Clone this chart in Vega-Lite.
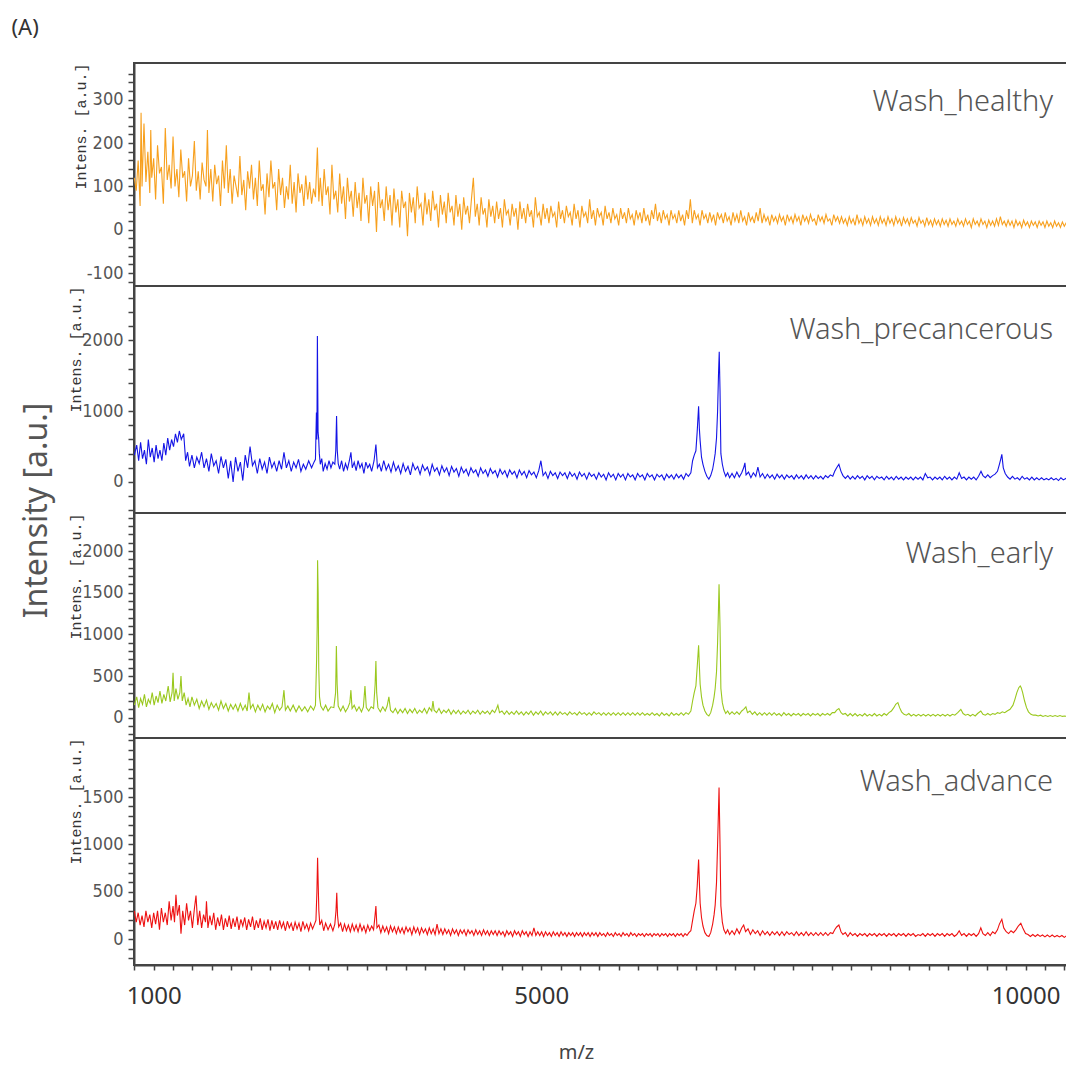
{
  "$schema": "https://vega.github.io/schema/vega-lite/v6.json",
  "background": "white",
  "padding": {"left": 10, "top": 15, "right": 0, "bottom": 0},
  "spacing": 0,
  "bounds": "flush",
  "config": {
    "view": {"stroke": "#444", "strokeWidth": 2},
    "axis": {"grid": false, "domainColor": "#444", "domainWidth": 2, "tickColor": "#444", "tickWidth": 1.5, "tickSize": 6,
             "labelFont": "Liberation Sans Narrow, DejaVu Sans Condensed, sans-serif", "labelFontSize": 18, "labelColor": "#555", "labelPadding": 5,
             "labelOverlap": false, "labelFlush": false, "labelBound": false,
             "titleFont": "Liberation Mono, DejaVu Sans Mono, monospace", "titleFontSize": 15, "titleFontWeight": "normal", "titleColor": "#333", "titlePadding": -2, "titleAnchor": "end"},
    "title": {"font": "Noto Sans", "fontWeight": 300, "color": "#555"}
  },
  "datasets": {
    "healthy": [
      {"mz":800,"int":120},{"mz":820,"int":90},{"mz":840,"int":160},{"mz":860,"int":55},{"mz":870,"int":270},{"mz":880,"int":100},{"mz":900,"int":245},{"mz":920,"int":110},{"mz":940,"int":180},{"mz":960,"int":85},
      {"mz":970,"int":230},{"mz":980,"int":120},{"mz":1000,"int":165},{"mz":1020,"int":70},{"mz":1040,"int":195},{"mz":1060,"int":130},{"mz":1080,"int":145},{"mz":1100,"int":60},{"mz":1120,"int":235},{"mz":1140,"int":115},
      {"mz":1160,"int":150},{"mz":1180,"int":95},{"mz":1200,"int":215},{"mz":1220,"int":100},{"mz":1240,"int":140},{"mz":1260,"int":75},{"mz":1280,"int":185},{"mz":1300,"int":120},{"mz":1320,"int":135},{"mz":1340,"int":65},
      {"mz":1360,"int":165},{"mz":1380,"int":100},{"mz":1400,"int":125},{"mz":1420,"int":205},{"mz":1440,"int":90},{"mz":1460,"int":135},{"mz":1480,"int":70},{"mz":1500,"int":155},{"mz":1520,"int":115},{"mz":1540,"int":100},
      {"mz":1555,"int":230},{"mz":1570,"int":85},{"mz":1590,"int":140},{"mz":1610,"int":65},{"mz":1630,"int":150},{"mz":1650,"int":105},{"mz":1670,"int":125},{"mz":1690,"int":55},{"mz":1710,"int":160},{"mz":1730,"int":95},
      {"mz":1750,"int":195},{"mz":1770,"int":85},{"mz":1790,"int":140},{"mz":1810,"int":60},{"mz":1830,"int":125},{"mz":1850,"int":100},{"mz":1870,"int":75},{"mz":1890,"int":170},{"mz":1910,"int":80},{"mz":1930,"int":115},
      {"mz":1950,"int":45},{"mz":1970,"int":135},{"mz":1990,"int":95},{"mz":2010,"int":150},{"mz":2030,"int":70},{"mz":2050,"int":120},{"mz":2070,"int":55},{"mz":2090,"int":160},{"mz":2110,"int":90},{"mz":2130,"int":105},
      {"mz":2150,"int":35},{"mz":2170,"int":130},{"mz":2190,"int":75},{"mz":2210,"int":160},{"mz":2230,"int":95},{"mz":2250,"int":110},{"mz":2270,"int":45},{"mz":2290,"int":140},{"mz":2310,"int":80},{"mz":2330,"int":120},
      {"mz":2350,"int":50},{"mz":2370,"int":100},{"mz":2390,"int":70},{"mz":2410,"int":150},{"mz":2430,"int":60},{"mz":2450,"int":110},{"mz":2470,"int":40},{"mz":2490,"int":130},{"mz":2510,"int":85},{"mz":2530,"int":105},
      {"mz":2550,"int":55},{"mz":2570,"int":125},{"mz":2590,"int":70},{"mz":2610,"int":110},{"mz":2630,"int":60},{"mz":2650,"int":95},{"mz":2670,"int":75},{"mz":2690,"int":190},{"mz":2705,"int":65},{"mz":2720,"int":120},
      {"mz":2740,"int":55},{"mz":2760,"int":140},{"mz":2780,"int":80},{"mz":2800,"int":100},{"mz":2820,"int":35},{"mz":2840,"int":150},{"mz":2860,"int":70},{"mz":2880,"int":90},{"mz":2900,"int":40},{"mz":2920,"int":130},
      {"mz":2940,"int":60},{"mz":2960,"int":100},{"mz":2980,"int":25},{"mz":3000,"int":120},{"mz":3020,"int":65},{"mz":3040,"int":90},{"mz":3060,"int":30},{"mz":3080,"int":110},{"mz":3100,"int":50},{"mz":3120,"int":85},
      {"mz":3140,"int":20},{"mz":3160,"int":120},{"mz":3180,"int":60},{"mz":3200,"int":80},{"mz":3220,"int":15},{"mz":3240,"int":100},{"mz":3260,"int":55},{"mz":3280,"int":90},{"mz":3300,"int":-5},{"mz":3320,"int":110},
      {"mz":3340,"int":50},{"mz":3360,"int":70},{"mz":3380,"int":20},{"mz":3400,"int":100},{"mz":3420,"int":45},{"mz":3440,"int":80},{"mz":3460,"int":10},{"mz":3480,"int":95},{"mz":3500,"int":40},{"mz":3520,"int":70},
      {"mz":3540,"int":5},{"mz":3560,"int":90},{"mz":3580,"int":50},{"mz":3600,"int":65},{"mz":3620,"int":-15},{"mz":3640,"int":85},{"mz":3660,"int":40},{"mz":3680,"int":75},{"mz":3700,"int":15},{"mz":3720,"int":100},
      {"mz":3740,"int":50},{"mz":3760,"int":60},{"mz":3780,"int":10},{"mz":3800,"int":85},{"mz":3820,"int":35},{"mz":3840,"int":70},{"mz":3860,"int":20},{"mz":3880,"int":90},{"mz":3900,"int":45},{"mz":3920,"int":60},
      {"mz":3940,"int":5},{"mz":3960,"int":80},{"mz":3980,"int":35},{"mz":4000,"int":65},{"mz":4020,"int":15},{"mz":4040,"int":85},{"mz":4060,"int":40},{"mz":4080,"int":55},{"mz":4100,"int":10},{"mz":4120,"int":80},
      {"mz":4140,"int":30},{"mz":4160,"int":60},{"mz":4180,"int":0},{"mz":4200,"int":75},{"mz":4220,"int":35},{"mz":4240,"int":55},{"mz":4260,"int":15},{"mz":4280,"int":70},{"mz":4300,"int":120},{"mz":4320,"int":30},
      {"mz":4340,"int":60},{"mz":4360,"int":10},{"mz":4380,"int":75},{"mz":4400,"int":35},{"mz":4420,"int":50},{"mz":4440,"int":5},{"mz":4460,"int":70},{"mz":4480,"int":30},{"mz":4500,"int":55},{"mz":4520,"int":15},
      {"mz":4540,"int":65},{"mz":4560,"int":25},{"mz":4580,"int":50},{"mz":4600,"int":5},{"mz":4620,"int":70},{"mz":4640,"int":35},{"mz":4660,"int":45},{"mz":4680,"int":10},{"mz":4700,"int":60},{"mz":4720,"int":30},
      {"mz":4740,"int":50},{"mz":4760,"int":0},{"mz":4780,"int":65},{"mz":4800,"int":25},{"mz":4820,"int":50},{"mz":4840,"int":15},{"mz":4860,"int":60},{"mz":4880,"int":30},{"mz":4900,"int":45},{"mz":4920,"int":5},
      {"mz":4940,"int":75},{"mz":4960,"int":30},{"mz":4980,"int":40},{"mz":5000,"int":10},{"mz":5020,"int":60},{"mz":5040,"int":25},{"mz":5060,"int":50},{"mz":5080,"int":15},{"mz":5100,"int":55},{"mz":5120,"int":30},
      {"mz":5140,"int":40},{"mz":5160,"int":5},{"mz":5180,"int":65},{"mz":5200,"int":25},{"mz":5220,"int":45},{"mz":5240,"int":15},{"mz":5260,"int":55},{"mz":5280,"int":30},{"mz":5300,"int":40},{"mz":5320,"int":10},
      {"mz":5340,"int":60},{"mz":5360,"int":25},{"mz":5380,"int":45},{"mz":5400,"int":5},{"mz":5420,"int":55},{"mz":5440,"int":30},{"mz":5460,"int":40},{"mz":5480,"int":15},{"mz":5500,"int":70},{"mz":5520,"int":25},
      {"mz":5540,"int":45},{"mz":5560,"int":10},{"mz":5580,"int":50},{"mz":5600,"int":30},{"mz":5620,"int":40},{"mz":5640,"int":10},{"mz":5660,"int":55},{"mz":5680,"int":25},{"mz":5700,"int":40},{"mz":5720,"int":15},
      {"mz":5740,"int":50},{"mz":5760,"int":25},{"mz":5780,"int":35},{"mz":5800,"int":10},{"mz":5820,"int":50},{"mz":5840,"int":25},{"mz":5860,"int":40},{"mz":5880,"int":15},{"mz":5900,"int":50},{"mz":5920,"int":25},
      {"mz":5940,"int":35},{"mz":5960,"int":10},{"mz":5980,"int":45},{"mz":6000,"int":25},{"mz":6020,"int":40},{"mz":6040,"int":15},{"mz":6060,"int":50},{"mz":6080,"int":20},{"mz":6100,"int":35},{"mz":6120,"int":10},
      {"mz":6140,"int":45},{"mz":6160,"int":25},{"mz":6180,"int":60},{"mz":6200,"int":20},{"mz":6220,"int":40},{"mz":6240,"int":15},{"mz":6260,"int":45},{"mz":6280,"int":25},{"mz":6300,"int":35},{"mz":6320,"int":10},
      {"mz":6340,"int":45},{"mz":6360,"int":25},{"mz":6380,"int":35},{"mz":6400,"int":15},{"mz":6420,"int":45},{"mz":6440,"int":20},{"mz":6460,"int":35},{"mz":6480,"int":10},{"mz":6500,"int":45},{"mz":6520,"int":25},
      {"mz":6540,"int":70},{"mz":6560,"int":15},{"mz":6580,"int":45},{"mz":6600,"int":25},{"mz":6620,"int":35},{"mz":6640,"int":10},{"mz":6660,"int":45},{"mz":6680,"int":25},{"mz":6700,"int":35},{"mz":6720,"int":15},
      {"mz":6740,"int":40},{"mz":6760,"int":20},{"mz":6780,"int":35},{"mz":6800,"int":10},{"mz":6820,"int":40},{"mz":6840,"int":25},{"mz":6860,"int":35},{"mz":6880,"int":15},{"mz":6900,"int":40},{"mz":6920,"int":20},
      {"mz":6940,"int":30},{"mz":6960,"int":10},{"mz":6980,"int":40},{"mz":7000,"int":20},{"mz":7020,"int":35},{"mz":7040,"int":15},{"mz":7060,"int":45},{"mz":7080,"int":20},{"mz":7100,"int":30},{"mz":7120,"int":10},
      {"mz":7140,"int":40},{"mz":7160,"int":20},{"mz":7180,"int":30},{"mz":7200,"int":15},{"mz":7220,"int":40},{"mz":7240,"int":20},{"mz":7260,"int":50},{"mz":7280,"int":15},{"mz":7300,"int":35},{"mz":7320,"int":20},
      {"mz":7340,"int":30},{"mz":7360,"int":10},{"mz":7380,"int":35},{"mz":7400,"int":20},{"mz":7420,"int":30},{"mz":7440,"int":15},{"mz":7460,"int":35},{"mz":7480,"int":20},{"mz":7500,"int":30},{"mz":7520,"int":10},
      {"mz":7540,"int":35},{"mz":7560,"int":20},{"mz":7580,"int":30},{"mz":7600,"int":15},{"mz":7620,"int":35},{"mz":7640,"int":20},{"mz":7660,"int":30},{"mz":7680,"int":10},{"mz":7700,"int":35},{"mz":7720,"int":20},
      {"mz":7740,"int":30},{"mz":7760,"int":15},{"mz":7780,"int":35},{"mz":7800,"int":20},{"mz":7820,"int":25},{"mz":7840,"int":10},{"mz":7860,"int":35},{"mz":7880,"int":20},{"mz":7900,"int":30},{"mz":7920,"int":15},
      {"mz":7940,"int":35},{"mz":7960,"int":20},{"mz":7980,"int":25},{"mz":8000,"int":10},{"mz":8020,"int":35},{"mz":8040,"int":20},{"mz":8060,"int":30},{"mz":8080,"int":15},{"mz":8100,"int":30},{"mz":8120,"int":15},
      {"mz":8140,"int":25},{"mz":8160,"int":10},{"mz":8180,"int":30},{"mz":8200,"int":15},{"mz":8220,"int":25},{"mz":8240,"int":10},{"mz":8260,"int":35},{"mz":8280,"int":15},{"mz":8300,"int":25},{"mz":8320,"int":10},
      {"mz":8340,"int":30},{"mz":8360,"int":15},{"mz":8380,"int":25},{"mz":8400,"int":10},{"mz":8420,"int":30},{"mz":8440,"int":15},{"mz":8460,"int":25},{"mz":8480,"int":10},{"mz":8500,"int":30},{"mz":8520,"int":15},
      {"mz":8540,"int":25},{"mz":8560,"int":10},{"mz":8580,"int":30},{"mz":8600,"int":15},{"mz":8620,"int":25},{"mz":8640,"int":10},{"mz":8660,"int":30},{"mz":8680,"int":15},{"mz":8700,"int":25},{"mz":8720,"int":8},
      {"mz":8740,"int":28},{"mz":8760,"int":15},{"mz":8780,"int":25},{"mz":8800,"int":10},{"mz":8820,"int":28},{"mz":8840,"int":15},{"mz":8860,"int":22},{"mz":8880,"int":8},{"mz":8900,"int":28},{"mz":8920,"int":15},
      {"mz":8940,"int":22},{"mz":8960,"int":8},{"mz":8980,"int":28},{"mz":9000,"int":12},{"mz":9020,"int":22},{"mz":9040,"int":8},{"mz":9060,"int":25},{"mz":9080,"int":12},{"mz":9100,"int":22},{"mz":9120,"int":8},
      {"mz":9140,"int":25},{"mz":9160,"int":12},{"mz":9180,"int":22},{"mz":9200,"int":8},{"mz":9220,"int":25},{"mz":9240,"int":12},{"mz":9260,"int":20},{"mz":9280,"int":8},{"mz":9300,"int":25},{"mz":9320,"int":12},
      {"mz":9340,"int":20},{"mz":9360,"int":8},{"mz":9380,"int":25},{"mz":9400,"int":12},{"mz":9420,"int":20},{"mz":9440,"int":5},{"mz":9460,"int":25},{"mz":9480,"int":12},{"mz":9500,"int":20},{"mz":9520,"int":8},
      {"mz":9540,"int":25},{"mz":9560,"int":12},{"mz":9580,"int":20},{"mz":9600,"int":5},{"mz":9620,"int":22},{"mz":9640,"int":10},{"mz":9660,"int":20},{"mz":9680,"int":8},{"mz":9700,"int":25},{"mz":9720,"int":10},
      {"mz":9740,"int":30},{"mz":9760,"int":12},{"mz":9780,"int":20},{"mz":9800,"int":8},{"mz":9820,"int":22},{"mz":9840,"int":10},{"mz":9860,"int":20},{"mz":9880,"int":5},{"mz":9900,"int":22},{"mz":9920,"int":10},
      {"mz":9940,"int":18},{"mz":9960,"int":5},{"mz":9980,"int":22},{"mz":10000,"int":10},{"mz":10020,"int":18},{"mz":10040,"int":5},{"mz":10060,"int":20},{"mz":10080,"int":10},{"mz":10100,"int":18},{"mz":10120,"int":5},
      {"mz":10140,"int":20},{"mz":10160,"int":10},{"mz":10180,"int":18},{"mz":10200,"int":5},{"mz":10220,"int":20},{"mz":10240,"int":8},{"mz":10260,"int":16},{"mz":10280,"int":5},{"mz":10300,"int":20},{"mz":10320,"int":8},
      {"mz":10340,"int":16},{"mz":10360,"int":5},{"mz":10380,"int":18},{"mz":10400,"int":8},{"mz":10420,"int":16},{"mz":10440,"int":5},{"mz":10460,"int":18},{"mz":10480,"int":8},{"mz":10500,"int":14}
    ],
    "precancerous": [
      {"mz":800,"int":380},{"mz":825,"int":520},{"mz":845,"int":300},{"mz":865,"int":560},{"mz":885,"int":330},{"mz":905,"int":450},{"mz":925,"int":250},{"mz":945,"int":600},{"mz":965,"int":350},{"mz":985,"int":480},
      {"mz":1005,"int":280},{"mz":1025,"int":520},{"mz":1045,"int":330},{"mz":1065,"int":450},{"mz":1085,"int":300},{"mz":1105,"int":550},{"mz":1125,"int":380},{"mz":1145,"int":620},{"mz":1165,"int":450},{"mz":1185,"int":600},
      {"mz":1205,"int":500},{"mz":1225,"int":680},{"mz":1245,"int":560},{"mz":1265,"int":720},{"mz":1285,"int":600},{"mz":1310,"int":680},{"mz":1330,"int":300},{"mz":1350,"int":420},{"mz":1370,"int":220},{"mz":1395,"int":380},
      {"mz":1420,"int":200},{"mz":1445,"int":350},{"mz":1470,"int":260},{"mz":1495,"int":420},{"mz":1520,"int":200},{"mz":1545,"int":330},{"mz":1570,"int":150},{"mz":1595,"int":400},{"mz":1620,"int":230},{"mz":1645,"int":300},
      {"mz":1670,"int":120},{"mz":1695,"int":360},{"mz":1720,"int":200},{"mz":1745,"int":320},{"mz":1770,"int":50},{"mz":1795,"int":300},{"mz":1820,"int":0},{"mz":1845,"int":350},{"mz":1870,"int":150},{"mz":1895,"int":280},
      {"mz":1920,"int":20},{"mz":1945,"int":380},{"mz":1970,"int":200},{"mz":1995,"int":500},{"mz":2020,"int":230},{"mz":2045,"int":300},{"mz":2070,"int":120},{"mz":2095,"int":330},{"mz":2120,"int":180},{"mz":2145,"int":280},
      {"mz":2170,"int":120},{"mz":2195,"int":350},{"mz":2220,"int":200},{"mz":2245,"int":280},{"mz":2270,"int":150},{"mz":2295,"int":300},{"mz":2320,"int":180},{"mz":2345,"int":420},{"mz":2370,"int":200},{"mz":2395,"int":300},
      {"mz":2420,"int":150},{"mz":2445,"int":280},{"mz":2470,"int":200},{"mz":2495,"int":320},{"mz":2520,"int":150},{"mz":2545,"int":250},{"mz":2570,"int":180},{"mz":2600,"int":300},{"mz":2630,"int":200},{"mz":2655,"int":280},
      {"mz":2670,"int":320},{"mz":2680,"int":980},{"mz":2685,"int":600},{"mz":2690,"int":2060},{"mz":2697,"int":700},{"mz":2703,"int":620},{"mz":2710,"int":400},{"mz":2720,"int":250},{"mz":2735,"int":330},{"mz":2750,"int":150},
      {"mz":2770,"int":260},{"mz":2790,"int":180},{"mz":2810,"int":300},{"mz":2830,"int":200},{"mz":2850,"int":280},{"mz":2870,"int":250},{"mz":2880,"int":450},{"mz":2888,"int":930},{"mz":2895,"int":450},{"mz":2905,"int":260},
      {"mz":2920,"int":180},{"mz":2940,"int":300},{"mz":2960,"int":150},{"mz":2980,"int":260},{"mz":3000,"int":180},{"mz":3020,"int":300},{"mz":3036,"int":420},{"mz":3050,"int":200},{"mz":3070,"int":280},{"mz":3090,"int":160},
      {"mz":3110,"int":300},{"mz":3130,"int":200},{"mz":3150,"int":260},{"mz":3170,"int":120},{"mz":3190,"int":280},{"mz":3210,"int":200},{"mz":3230,"int":250},{"mz":3250,"int":150},{"mz":3275,"int":300},{"mz":3294,"int":530},
      {"mz":3310,"int":200},{"mz":3330,"int":250},{"mz":3350,"int":150},{"mz":3375,"int":300},{"mz":3400,"int":170},{"mz":3425,"int":250},{"mz":3450,"int":140},{"mz":3475,"int":280},{"mz":3500,"int":160},{"mz":3525,"int":230},
      {"mz":3550,"int":120},{"mz":3575,"int":260},{"mz":3600,"int":150},{"mz":3625,"int":220},{"mz":3650,"int":100},{"mz":3675,"int":260},{"mz":3700,"int":170},{"mz":3725,"int":220},{"mz":3750,"int":110},{"mz":3775,"int":240},
      {"mz":3800,"int":160},{"mz":3825,"int":210},{"mz":3850,"int":100},{"mz":3875,"int":250},{"mz":3900,"int":150},{"mz":3925,"int":200},{"mz":3950,"int":100},{"mz":3975,"int":230},{"mz":4000,"int":140},{"mz":4025,"int":200},
      {"mz":4050,"int":90},{"mz":4075,"int":220},{"mz":4100,"int":140},{"mz":4125,"int":190},{"mz":4150,"int":80},{"mz":4175,"int":210},{"mz":4200,"int":130},{"mz":4225,"int":180},{"mz":4250,"int":90},{"mz":4275,"int":200},
      {"mz":4300,"int":130},{"mz":4325,"int":170},{"mz":4350,"int":80},{"mz":4375,"int":200},{"mz":4400,"int":120},{"mz":4425,"int":170},{"mz":4450,"int":80},{"mz":4475,"int":190},{"mz":4500,"int":120},{"mz":4525,"int":160},
      {"mz":4550,"int":70},{"mz":4575,"int":180},{"mz":4600,"int":110},{"mz":4625,"int":160},{"mz":4650,"int":70},{"mz":4675,"int":170},{"mz":4700,"int":110},{"mz":4725,"int":150},{"mz":4750,"int":60},{"mz":4775,"int":170},
      {"mz":4800,"int":100},{"mz":4825,"int":150},{"mz":4850,"int":60},{"mz":4875,"int":160},{"mz":4900,"int":100},{"mz":4925,"int":140},{"mz":4950,"int":60},{"mz":4975,"int":160},{"mz":4997,"int":300},{"mz":5020,"int":90},
      {"mz":5045,"int":140},{"mz":5070,"int":50},{"mz":5095,"int":150},{"mz":5120,"int":90},{"mz":5145,"int":130},{"mz":5170,"int":50},{"mz":5195,"int":140},{"mz":5220,"int":90},{"mz":5245,"int":130},{"mz":5270,"int":50},
      {"mz":5295,"int":140},{"mz":5320,"int":80},{"mz":5345,"int":120},{"mz":5370,"int":40},{"mz":5395,"int":140},{"mz":5420,"int":80},{"mz":5445,"int":120},{"mz":5470,"int":40},{"mz":5495,"int":130},{"mz":5520,"int":80},
      {"mz":5545,"int":110},{"mz":5570,"int":40},{"mz":5595,"int":130},{"mz":5620,"int":70},{"mz":5645,"int":110},{"mz":5670,"int":30},{"mz":5695,"int":130},{"mz":5720,"int":70},{"mz":5745,"int":110},{"mz":5770,"int":30},
      {"mz":5795,"int":120},{"mz":5820,"int":70},{"mz":5845,"int":110},{"mz":5870,"int":30},{"mz":5895,"int":120},{"mz":5920,"int":70},{"mz":5945,"int":100},{"mz":5970,"int":30},{"mz":5995,"int":120},{"mz":6020,"int":70},
      {"mz":6045,"int":100},{"mz":6070,"int":30},{"mz":6095,"int":120},{"mz":6120,"int":70},{"mz":6145,"int":100},{"mz":6170,"int":30},{"mz":6195,"int":110},{"mz":6220,"int":70},{"mz":6245,"int":100},{"mz":6270,"int":30},
      {"mz":6295,"int":110},{"mz":6320,"int":60},{"mz":6345,"int":100},{"mz":6370,"int":40},{"mz":6395,"int":110},{"mz":6420,"int":60},{"mz":6445,"int":100},{"mz":6470,"int":40},{"mz":6495,"int":120},{"mz":6520,"int":80},
      {"mz":6545,"int":130},{"mz":6563,"int":300},{"mz":6580,"int":380},{"mz":6597,"int":440},{"mz":6610,"int":700},{"mz":6625,"int":1070},{"mz":6633,"int":750},{"mz":6641,"int":580},{"mz":6655,"int":350},{"mz":6670,"int":250},
      {"mz":6690,"int":150},{"mz":6710,"int":80},{"mz":6731,"int":40},{"mz":6750,"int":90},{"mz":6770,"int":180},{"mz":6785,"int":300},{"mz":6796,"int":400},{"mz":6810,"int":620},{"mz":6821,"int":1000},{"mz":6830,"int":1500},
      {"mz":6838,"int":1840},{"mz":6846,"int":1300},{"mz":6855,"int":400},{"mz":6870,"int":250},{"mz":6886,"int":150},{"mz":6905,"int":80},{"mz":6925,"int":130},{"mz":6945,"int":60},{"mz":6970,"int":120},{"mz":6995,"int":60},
      {"mz":7020,"int":140},{"mz":7045,"int":70},{"mz":7070,"int":130},{"mz":7090,"int":200},{"mz":7103,"int":270},{"mz":7115,"int":100},{"mz":7140,"int":140},{"mz":7165,"int":60},{"mz":7190,"int":130},{"mz":7215,"int":80},
      {"mz":7237,"int":210},{"mz":7260,"int":70},{"mz":7285,"int":120},{"mz":7310,"int":50},{"mz":7335,"int":110},{"mz":7360,"int":60},{"mz":7385,"int":100},{"mz":7410,"int":40},{"mz":7435,"int":110},{"mz":7460,"int":60},
      {"mz":7485,"int":100},{"mz":7510,"int":40},{"mz":7535,"int":100},{"mz":7560,"int":60},{"mz":7585,"int":90},{"mz":7610,"int":40},{"mz":7635,"int":100},{"mz":7660,"int":50},{"mz":7685,"int":90},{"mz":7710,"int":40},
      {"mz":7735,"int":100},{"mz":7760,"int":50},{"mz":7785,"int":90},{"mz":7810,"int":40},{"mz":7835,"int":90},{"mz":7860,"int":50},{"mz":7885,"int":80},{"mz":7910,"int":40},{"mz":7935,"int":90},{"mz":7960,"int":60},
      {"mz":7985,"int":100},{"mz":8010,"int":80},{"mz":8030,"int":150},{"mz":8050,"int":200},{"mz":8073,"int":250},{"mz":8095,"int":150},{"mz":8115,"int":90},{"mz":8140,"int":50},{"mz":8165,"int":90},{"mz":8190,"int":40},
      {"mz":8215,"int":80},{"mz":8240,"int":40},{"mz":8265,"int":90},{"mz":8290,"int":50},{"mz":8315,"int":80},{"mz":8340,"int":30},{"mz":8365,"int":90},{"mz":8390,"int":50},{"mz":8415,"int":80},{"mz":8440,"int":30},
      {"mz":8465,"int":80},{"mz":8490,"int":50},{"mz":8515,"int":70},{"mz":8540,"int":30},{"mz":8565,"int":80},{"mz":8590,"int":40},{"mz":8615,"int":70},{"mz":8640,"int":30},{"mz":8665,"int":80},{"mz":8690,"int":40},
      {"mz":8715,"int":70},{"mz":8740,"int":30},{"mz":8765,"int":70},{"mz":8790,"int":40},{"mz":8815,"int":70},{"mz":8840,"int":30},{"mz":8865,"int":70},{"mz":8890,"int":40},{"mz":8915,"int":70},{"mz":8940,"int":30},
      {"mz":8965,"int":120},{"mz":8990,"int":60},{"mz":9015,"int":70},{"mz":9040,"int":30},{"mz":9065,"int":70},{"mz":9090,"int":40},{"mz":9115,"int":70},{"mz":9140,"int":30},{"mz":9165,"int":80},{"mz":9190,"int":40},
      {"mz":9215,"int":70},{"mz":9240,"int":30},{"mz":9265,"int":70},{"mz":9290,"int":40},{"mz":9315,"int":130},{"mz":9340,"int":50},{"mz":9365,"int":70},{"mz":9390,"int":30},{"mz":9415,"int":70},{"mz":9440,"int":40},
      {"mz":9465,"int":70},{"mz":9490,"int":30},{"mz":9515,"int":80},{"mz":9540,"int":150},{"mz":9560,"int":90},{"mz":9585,"int":60},{"mz":9610,"int":100},{"mz":9635,"int":60},{"mz":9660,"int":90},{"mz":9685,"int":110},
      {"mz":9710,"int":150},{"mz":9730,"int":250},{"mz":9745,"int":330},{"mz":9755,"int":390},{"mz":9770,"int":200},{"mz":9790,"int":120},{"mz":9815,"int":70},{"mz":9840,"int":40},{"mz":9865,"int":80},{"mz":9890,"int":40},
      {"mz":9915,"int":60},{"mz":9940,"int":30},{"mz":9965,"int":80},{"mz":9990,"int":40},{"mz":10015,"int":60},{"mz":10040,"int":30},{"mz":10065,"int":70},{"mz":10090,"int":30},{"mz":10115,"int":60},{"mz":10140,"int":30},
      {"mz":10165,"int":60},{"mz":10190,"int":30},{"mz":10215,"int":50},{"mz":10240,"int":30},{"mz":10265,"int":60},{"mz":10290,"int":30},{"mz":10315,"int":50},{"mz":10340,"int":20},{"mz":10365,"int":60},{"mz":10390,"int":30},
      {"mz":10415,"int":50},{"mz":10440,"int":20},{"mz":10465,"int":50},{"mz":10500,"int":30}
    ],
    "early": [
      {"mz":800,"int":150},{"mz":825,"int":250},{"mz":845,"int":120},{"mz":865,"int":230},{"mz":885,"int":160},{"mz":905,"int":280},{"mz":925,"int":130},{"mz":945,"int":220},{"mz":965,"int":170},{"mz":985,"int":300},
      {"mz":1005,"int":150},{"mz":1025,"int":260},{"mz":1045,"int":180},{"mz":1065,"int":320},{"mz":1085,"int":170},{"mz":1105,"int":280},{"mz":1125,"int":200},{"mz":1150,"int":380},{"mz":1170,"int":190},{"mz":1190,"int":300},
      {"mz":1200,"int":540},{"mz":1212,"int":200},{"mz":1230,"int":350},{"mz":1250,"int":220},{"mz":1270,"int":300},{"mz":1282,"int":500},{"mz":1295,"int":200},{"mz":1315,"int":300},{"mz":1335,"int":150},{"mz":1355,"int":230},
      {"mz":1375,"int":130},{"mz":1395,"int":250},{"mz":1420,"int":150},{"mz":1445,"int":220},{"mz":1470,"int":110},{"mz":1495,"int":200},{"mz":1520,"int":130},{"mz":1545,"int":210},{"mz":1570,"int":100},{"mz":1595,"int":180},
      {"mz":1620,"int":120},{"mz":1645,"int":170},{"mz":1670,"int":90},{"mz":1695,"int":200},{"mz":1720,"int":110},{"mz":1745,"int":170},{"mz":1770,"int":80},{"mz":1795,"int":160},{"mz":1820,"int":100},{"mz":1845,"int":160},
      {"mz":1870,"int":80},{"mz":1895,"int":170},{"mz":1920,"int":90},{"mz":1945,"int":150},{"mz":1965,"int":80},{"mz":1984,"int":300},{"mz":2000,"int":110},{"mz":2025,"int":160},{"mz":2050,"int":70},{"mz":2075,"int":150},
      {"mz":2100,"int":90},{"mz":2125,"int":160},{"mz":2150,"int":70},{"mz":2175,"int":140},{"mz":2200,"int":100},{"mz":2225,"int":170},{"mz":2250,"int":60},{"mz":2275,"int":150},{"mz":2300,"int":90},{"mz":2325,"int":130},
      {"mz":2345,"int":330},{"mz":2360,"int":90},{"mz":2385,"int":140},{"mz":2410,"int":80},{"mz":2440,"int":150},{"mz":2470,"int":70},{"mz":2500,"int":140},{"mz":2530,"int":80},{"mz":2560,"int":130},{"mz":2590,"int":70},
      {"mz":2620,"int":140},{"mz":2650,"int":90},{"mz":2670,"int":150},{"mz":2682,"int":700},{"mz":2688,"int":1100},{"mz":2692,"int":1890},{"mz":2698,"int":1500},{"mz":2704,"int":600},{"mz":2712,"int":250},{"mz":2725,"int":140},
      {"mz":2750,"int":90},{"mz":2775,"int":150},{"mz":2800,"int":80},{"mz":2830,"int":130},{"mz":2860,"int":120},{"mz":2878,"int":300},{"mz":2886,"int":860},{"mz":2894,"int":400},{"mz":2905,"int":140},{"mz":2930,"int":80},
      {"mz":2955,"int":140},{"mz":2980,"int":70},{"mz":3005,"int":120},{"mz":3025,"int":180},{"mz":3036,"int":330},{"mz":3048,"int":110},{"mz":3070,"int":150},{"mz":3095,"int":80},{"mz":3120,"int":130},{"mz":3145,"int":70},
      {"mz":3165,"int":130},{"mz":3181,"int":380},{"mz":3195,"int":120},{"mz":3220,"int":80},{"mz":3245,"int":130},{"mz":3270,"int":110},{"mz":3286,"int":400},{"mz":3294,"int":680},{"mz":3302,"int":300},{"mz":3315,"int":120},
      {"mz":3340,"int":70},{"mz":3365,"int":130},{"mz":3390,"int":80},{"mz":3410,"int":140},{"mz":3428,"int":250},{"mz":3445,"int":90},{"mz":3470,"int":60},{"mz":3495,"int":110},{"mz":3520,"int":50},{"mz":3545,"int":100},
      {"mz":3570,"int":60},{"mz":3595,"int":110},{"mz":3620,"int":50},{"mz":3645,"int":100},{"mz":3670,"int":60},{"mz":3695,"int":110},{"mz":3720,"int":50},{"mz":3745,"int":90},{"mz":3770,"int":60},{"mz":3795,"int":110},
      {"mz":3820,"int":50},{"mz":3845,"int":120},{"mz":3870,"int":80},{"mz":3883,"int":200},{"mz":3895,"int":90},{"mz":3920,"int":60},{"mz":3945,"int":110},{"mz":3970,"int":50},{"mz":3995,"int":90},{"mz":4020,"int":60},
      {"mz":4045,"int":100},{"mz":4070,"int":40},{"mz":4095,"int":90},{"mz":4120,"int":50},{"mz":4145,"int":90},{"mz":4170,"int":40},{"mz":4195,"int":80},{"mz":4220,"int":50},{"mz":4245,"int":90},{"mz":4270,"int":40},
      {"mz":4295,"int":80},{"mz":4320,"int":50},{"mz":4345,"int":90},{"mz":4370,"int":40},{"mz":4395,"int":80},{"mz":4420,"int":50},{"mz":4445,"int":80},{"mz":4470,"int":40},{"mz":4495,"int":90},{"mz":4520,"int":60},
      {"mz":4540,"int":110},{"mz":4553,"int":150},{"mz":4570,"int":60},{"mz":4595,"int":80},{"mz":4620,"int":40},{"mz":4645,"int":80},{"mz":4670,"int":40},{"mz":4695,"int":70},{"mz":4720,"int":40},{"mz":4745,"int":80},
      {"mz":4770,"int":40},{"mz":4795,"int":70},{"mz":4820,"int":30},{"mz":4845,"int":70},{"mz":4870,"int":40},{"mz":4895,"int":80},{"mz":4920,"int":30},{"mz":4945,"int":70},{"mz":4970,"int":40},{"mz":4995,"int":80},
      {"mz":5020,"int":30},{"mz":5045,"int":70},{"mz":5070,"int":40},{"mz":5095,"int":70},{"mz":5120,"int":30},{"mz":5145,"int":70},{"mz":5170,"int":30},{"mz":5195,"int":70},{"mz":5220,"int":40},{"mz":5245,"int":60},
      {"mz":5270,"int":30},{"mz":5295,"int":70},{"mz":5320,"int":40},{"mz":5345,"int":60},{"mz":5370,"int":30},{"mz":5395,"int":70},{"mz":5420,"int":40},{"mz":5445,"int":60},{"mz":5470,"int":30},{"mz":5495,"int":60},
      {"mz":5520,"int":30},{"mz":5545,"int":70},{"mz":5570,"int":40},{"mz":5595,"int":60},{"mz":5620,"int":30},{"mz":5645,"int":60},{"mz":5670,"int":30},{"mz":5695,"int":60},{"mz":5720,"int":30},{"mz":5745,"int":60},
      {"mz":5770,"int":30},{"mz":5795,"int":60},{"mz":5820,"int":30},{"mz":5845,"int":60},{"mz":5870,"int":30},{"mz":5895,"int":60},{"mz":5920,"int":30},{"mz":5945,"int":60},{"mz":5970,"int":30},{"mz":5995,"int":60},
      {"mz":6020,"int":30},{"mz":6045,"int":60},{"mz":6070,"int":30},{"mz":6095,"int":50},{"mz":6120,"int":30},{"mz":6145,"int":60},{"mz":6170,"int":30},{"mz":6195,"int":50},{"mz":6220,"int":20},{"mz":6245,"int":60},
      {"mz":6270,"int":30},{"mz":6295,"int":50},{"mz":6320,"int":20},{"mz":6345,"int":60},{"mz":6370,"int":30},{"mz":6395,"int":50},{"mz":6420,"int":30},{"mz":6445,"int":60},{"mz":6470,"int":30},{"mz":6495,"int":60},
      {"mz":6520,"int":40},{"mz":6545,"int":80},{"mz":6563,"int":200},{"mz":6580,"int":300},{"mz":6597,"int":380},{"mz":6610,"int":600},{"mz":6625,"int":870},{"mz":6633,"int":620},{"mz":6641,"int":400},{"mz":6655,"int":250},
      {"mz":6670,"int":150},{"mz":6690,"int":80},{"mz":6710,"int":40},{"mz":6731,"int":20},{"mz":6750,"int":60},{"mz":6770,"int":150},{"mz":6785,"int":250},{"mz":6796,"int":350},{"mz":6810,"int":550},{"mz":6821,"int":900},
      {"mz":6830,"int":1300},{"mz":6836,"int":1600},{"mz":6846,"int":1100},{"mz":6855,"int":350},{"mz":6870,"int":180},{"mz":6886,"int":100},{"mz":6905,"int":50},{"mz":6925,"int":80},{"mz":6945,"int":40},{"mz":6970,"int":70},
      {"mz":6995,"int":40},{"mz":7020,"int":70},{"mz":7045,"int":40},{"mz":7070,"int":80},{"mz":7090,"int":100},{"mz":7113,"int":130},{"mz":7130,"int":60},{"mz":7155,"int":80},{"mz":7180,"int":40},{"mz":7205,"int":70},
      {"mz":7230,"int":30},{"mz":7255,"int":60},{"mz":7280,"int":30},{"mz":7305,"int":60},{"mz":7330,"int":30},{"mz":7355,"int":60},{"mz":7380,"int":30},{"mz":7405,"int":60},{"mz":7430,"int":30},{"mz":7455,"int":50},
      {"mz":7480,"int":20},{"mz":7505,"int":60},{"mz":7530,"int":30},{"mz":7555,"int":50},{"mz":7580,"int":20},{"mz":7605,"int":50},{"mz":7630,"int":30},{"mz":7655,"int":50},{"mz":7680,"int":20},{"mz":7705,"int":50},
      {"mz":7730,"int":30},{"mz":7755,"int":50},{"mz":7780,"int":20},{"mz":7805,"int":50},{"mz":7830,"int":30},{"mz":7855,"int":50},{"mz":7880,"int":20},{"mz":7905,"int":50},{"mz":7930,"int":30},{"mz":7955,"int":50},
      {"mz":7980,"int":30},{"mz":8005,"int":60},{"mz":8030,"int":60},{"mz":8050,"int":90},{"mz":8073,"int":110},{"mz":8095,"int":60},{"mz":8115,"int":40},{"mz":8140,"int":50},{"mz":8165,"int":20},{"mz":8190,"int":50},
      {"mz":8215,"int":20},{"mz":8240,"int":50},{"mz":8265,"int":20},{"mz":8290,"int":40},{"mz":8315,"int":20},{"mz":8340,"int":50},{"mz":8365,"int":20},{"mz":8390,"int":40},{"mz":8415,"int":20},{"mz":8440,"int":50},
      {"mz":8465,"int":20},{"mz":8490,"int":40},{"mz":8515,"int":20},{"mz":8540,"int":50},{"mz":8565,"int":30},{"mz":8590,"int":60},{"mz":8615,"int":80},{"mz":8640,"int":120},{"mz":8660,"int":160},{"mz":8682,"int":180},
      {"mz":8700,"int":120},{"mz":8720,"int":70},{"mz":8745,"int":40},{"mz":8770,"int":30},{"mz":8795,"int":50},{"mz":8820,"int":20},{"mz":8845,"int":40},{"mz":8870,"int":20},{"mz":8895,"int":40},{"mz":8920,"int":20},
      {"mz":8945,"int":40},{"mz":8970,"int":20},{"mz":8995,"int":40},{"mz":9020,"int":20},{"mz":9045,"int":40},{"mz":9070,"int":20},{"mz":9095,"int":40},{"mz":9120,"int":20},{"mz":9145,"int":40},{"mz":9170,"int":20},
      {"mz":9195,"int":40},{"mz":9220,"int":20},{"mz":9245,"int":40},{"mz":9270,"int":30},{"mz":9300,"int":60},{"mz":9332,"int":100},{"mz":9355,"int":50},{"mz":9380,"int":30},{"mz":9405,"int":40},{"mz":9430,"int":20},
      {"mz":9455,"int":40},{"mz":9480,"int":20},{"mz":9505,"int":50},{"mz":9538,"int":80},{"mz":9560,"int":40},{"mz":9585,"int":30},{"mz":9610,"int":50},{"mz":9635,"int":30},{"mz":9660,"int":50},{"mz":9685,"int":40},
      {"mz":9710,"int":60},{"mz":9735,"int":50},{"mz":9760,"int":70},{"mz":9785,"int":60},{"mz":9810,"int":80},{"mz":9840,"int":100},{"mz":9870,"int":150},{"mz":9890,"int":220},{"mz":9910,"int":300},{"mz":9930,"int":360},
      {"mz":9945,"int":380},{"mz":9955,"int":360},{"mz":9970,"int":300},{"mz":9990,"int":200},{"mz":10010,"int":120},{"mz":10030,"int":70},{"mz":10055,"int":40},{"mz":10080,"int":30},{"mz":10105,"int":30},{"mz":10130,"int":20},
      {"mz":10155,"int":30},{"mz":10180,"int":15},{"mz":10205,"int":25},{"mz":10230,"int":15},{"mz":10255,"int":25},{"mz":10280,"int":15},{"mz":10305,"int":25},{"mz":10330,"int":15},{"mz":10355,"int":25},{"mz":10380,"int":15},
      {"mz":10405,"int":20},{"mz":10430,"int":15},{"mz":10455,"int":25},{"mz":10500,"int":15}
    ],
    "advance": [
      {"mz":800,"int":300},{"mz":820,"int":180},{"mz":840,"int":280},{"mz":860,"int":150},{"mz":880,"int":250},{"mz":900,"int":130},{"mz":920,"int":300},{"mz":940,"int":180},{"mz":960,"int":260},{"mz":980,"int":120},
      {"mz":1000,"int":280},{"mz":1020,"int":160},{"mz":1040,"int":300},{"mz":1060,"int":100},{"mz":1080,"int":330},{"mz":1100,"int":180},{"mz":1120,"int":280},{"mz":1140,"int":150},{"mz":1160,"int":400},{"mz":1180,"int":200},
      {"mz":1200,"int":350},{"mz":1215,"int":180},{"mz":1230,"int":470},{"mz":1245,"int":250},{"mz":1265,"int":360},{"mz":1282,"int":60},{"mz":1300,"int":300},{"mz":1320,"int":150},{"mz":1340,"int":380},{"mz":1360,"int":200},
      {"mz":1380,"int":300},{"mz":1400,"int":120},{"mz":1420,"int":320},{"mz":1437,"int":460},{"mz":1455,"int":150},{"mz":1475,"int":300},{"mz":1495,"int":120},{"mz":1515,"int":260},{"mz":1535,"int":180},{"mz":1545,"int":400},
      {"mz":1560,"int":120},{"mz":1580,"int":250},{"mz":1600,"int":150},{"mz":1620,"int":280},{"mz":1640,"int":100},{"mz":1660,"int":230},{"mz":1680,"int":140},{"mz":1700,"int":260},{"mz":1720,"int":100},{"mz":1740,"int":220},
      {"mz":1760,"int":130},{"mz":1780,"int":250},{"mz":1800,"int":110},{"mz":1820,"int":220},{"mz":1840,"int":130},{"mz":1860,"int":240},{"mz":1880,"int":100},{"mz":1900,"int":210},{"mz":1920,"int":140},{"mz":1940,"int":230},
      {"mz":1960,"int":100},{"mz":1980,"int":210},{"mz":2000,"int":130},{"mz":2020,"int":240},{"mz":2040,"int":100},{"mz":2060,"int":200},{"mz":2080,"int":120},{"mz":2100,"int":220},{"mz":2120,"int":100},{"mz":2140,"int":190},
      {"mz":2160,"int":120},{"mz":2180,"int":210},{"mz":2200,"int":90},{"mz":2220,"int":200},{"mz":2240,"int":110},{"mz":2260,"int":190},{"mz":2280,"int":100},{"mz":2300,"int":200},{"mz":2320,"int":120},{"mz":2340,"int":180},
      {"mz":2360,"int":90},{"mz":2380,"int":190},{"mz":2400,"int":120},{"mz":2420,"int":170},{"mz":2440,"int":90},{"mz":2460,"int":180},{"mz":2480,"int":110},{"mz":2500,"int":170},{"mz":2520,"int":80},{"mz":2540,"int":190},
      {"mz":2560,"int":110},{"mz":2580,"int":160},{"mz":2600,"int":90},{"mz":2620,"int":170},{"mz":2640,"int":110},{"mz":2660,"int":160},{"mz":2675,"int":200},{"mz":2685,"int":500},{"mz":2692,"int":860},{"mz":2698,"int":600},
      {"mz":2705,"int":300},{"mz":2715,"int":150},{"mz":2735,"int":200},{"mz":2755,"int":90},{"mz":2775,"int":170},{"mz":2800,"int":100},{"mz":2825,"int":160},{"mz":2850,"int":90},{"mz":2870,"int":160},{"mz":2882,"int":300},
      {"mz":2890,"int":490},{"mz":2898,"int":250},{"mz":2910,"int":130},{"mz":2930,"int":170},{"mz":2950,"int":80},{"mz":2970,"int":160},{"mz":2990,"int":90},{"mz":3010,"int":150},{"mz":3030,"int":80},{"mz":3050,"int":160},
      {"mz":3070,"int":90},{"mz":3090,"int":150},{"mz":3110,"int":80},{"mz":3130,"int":160},{"mz":3150,"int":90},{"mz":3170,"int":140},{"mz":3190,"int":70},{"mz":3210,"int":150},{"mz":3230,"int":90},{"mz":3250,"int":140},
      {"mz":3270,"int":100},{"mz":3285,"int":250},{"mz":3294,"int":350},{"mz":3305,"int":120},{"mz":3325,"int":150},{"mz":3345,"int":70},{"mz":3365,"int":140},{"mz":3385,"int":80},{"mz":3405,"int":130},{"mz":3425,"int":60},
      {"mz":3445,"int":140},{"mz":3465,"int":80},{"mz":3485,"int":130},{"mz":3505,"int":60},{"mz":3525,"int":130},{"mz":3545,"int":70},{"mz":3565,"int":120},{"mz":3585,"int":60},{"mz":3605,"int":130},{"mz":3625,"int":80},
      {"mz":3645,"int":120},{"mz":3665,"int":50},{"mz":3685,"int":130},{"mz":3705,"int":70},{"mz":3725,"int":120},{"mz":3745,"int":50},{"mz":3765,"int":120},{"mz":3785,"int":70},{"mz":3805,"int":110},{"mz":3825,"int":50},
      {"mz":3845,"int":120},{"mz":3865,"int":60},{"mz":3885,"int":110},{"mz":3905,"int":50},{"mz":3925,"int":160},{"mz":3945,"int":60},{"mz":3965,"int":110},{"mz":3985,"int":50},{"mz":4005,"int":110},{"mz":4025,"int":60},
      {"mz":4045,"int":100},{"mz":4065,"int":40},{"mz":4085,"int":110},{"mz":4105,"int":60},{"mz":4125,"int":100},{"mz":4145,"int":40},{"mz":4165,"int":100},{"mz":4185,"int":60},{"mz":4205,"int":100},{"mz":4225,"int":40},
      {"mz":4245,"int":100},{"mz":4265,"int":60},{"mz":4285,"int":90},{"mz":4305,"int":40},{"mz":4325,"int":100},{"mz":4345,"int":50},{"mz":4365,"int":90},{"mz":4385,"int":40},{"mz":4405,"int":100},{"mz":4425,"int":50},
      {"mz":4445,"int":90},{"mz":4465,"int":40},{"mz":4485,"int":90},{"mz":4505,"int":50},{"mz":4525,"int":90},{"mz":4545,"int":40},{"mz":4565,"int":90},{"mz":4585,"int":50},{"mz":4605,"int":80},{"mz":4625,"int":30},
      {"mz":4645,"int":90},{"mz":4665,"int":50},{"mz":4685,"int":80},{"mz":4705,"int":30},{"mz":4725,"int":90},{"mz":4745,"int":50},{"mz":4765,"int":80},{"mz":4785,"int":30},{"mz":4805,"int":90},{"mz":4825,"int":50},
      {"mz":4845,"int":80},{"mz":4865,"int":30},{"mz":4885,"int":80},{"mz":4905,"int":40},{"mz":4925,"int":120},{"mz":4945,"int":40},{"mz":4965,"int":80},{"mz":4985,"int":40},{"mz":5005,"int":80},{"mz":5025,"int":30},
      {"mz":5045,"int":80},{"mz":5065,"int":40},{"mz":5085,"int":70},{"mz":5105,"int":30},{"mz":5125,"int":80},{"mz":5145,"int":40},{"mz":5165,"int":70},{"mz":5185,"int":30},{"mz":5205,"int":80},{"mz":5225,"int":40},
      {"mz":5245,"int":70},{"mz":5265,"int":30},{"mz":5285,"int":70},{"mz":5305,"int":40},{"mz":5325,"int":70},{"mz":5345,"int":30},{"mz":5365,"int":70},{"mz":5385,"int":40},{"mz":5405,"int":70},{"mz":5425,"int":30},
      {"mz":5445,"int":70},{"mz":5465,"int":40},{"mz":5485,"int":70},{"mz":5505,"int":30},{"mz":5525,"int":70},{"mz":5545,"int":40},{"mz":5565,"int":70},{"mz":5585,"int":30},{"mz":5605,"int":70},{"mz":5625,"int":40},
      {"mz":5645,"int":60},{"mz":5665,"int":30},{"mz":5685,"int":70},{"mz":5705,"int":40},{"mz":5725,"int":60},{"mz":5745,"int":30},{"mz":5765,"int":70},{"mz":5785,"int":40},{"mz":5805,"int":60},{"mz":5825,"int":30},
      {"mz":5845,"int":70},{"mz":5865,"int":40},{"mz":5885,"int":60},{"mz":5905,"int":30},{"mz":5925,"int":70},{"mz":5945,"int":40},{"mz":5965,"int":60},{"mz":5985,"int":30},{"mz":6005,"int":60},{"mz":6025,"int":40},
      {"mz":6045,"int":60},{"mz":6065,"int":30},{"mz":6085,"int":60},{"mz":6105,"int":40},{"mz":6125,"int":60},{"mz":6145,"int":30},{"mz":6165,"int":60},{"mz":6185,"int":40},{"mz":6205,"int":60},{"mz":6225,"int":30},
      {"mz":6245,"int":60},{"mz":6265,"int":40},{"mz":6285,"int":60},{"mz":6305,"int":30},{"mz":6325,"int":60},{"mz":6345,"int":40},{"mz":6365,"int":60},{"mz":6385,"int":30},{"mz":6405,"int":60},{"mz":6425,"int":40},
      {"mz":6445,"int":60},{"mz":6465,"int":30},{"mz":6485,"int":60},{"mz":6505,"int":40},{"mz":6525,"int":70},{"mz":6545,"int":90},{"mz":6563,"int":200},{"mz":6580,"int":300},{"mz":6597,"int":380},{"mz":6610,"int":550},
      {"mz":6625,"int":840},{"mz":6633,"int":600},{"mz":6641,"int":380},{"mz":6655,"int":230},{"mz":6670,"int":140},{"mz":6690,"int":70},{"mz":6710,"int":40},{"mz":6731,"int":30},{"mz":6750,"int":70},{"mz":6770,"int":160},
      {"mz":6785,"int":260},{"mz":6796,"int":360},{"mz":6810,"int":600},{"mz":6821,"int":1000},{"mz":6830,"int":1350},{"mz":6836,"int":1600},{"mz":6846,"int":1000},{"mz":6855,"int":350},{"mz":6870,"int":180},{"mz":6886,"int":100},
      {"mz":6905,"int":60},{"mz":6925,"int":100},{"mz":6945,"int":50},{"mz":6970,"int":90},{"mz":6995,"int":50},{"mz":7020,"int":110},{"mz":7045,"int":60},{"mz":7070,"int":120},{"mz":7090,"int":150},{"mz":7110,"int":80},
      {"mz":7135,"int":110},{"mz":7160,"int":50},{"mz":7185,"int":100},{"mz":7210,"int":60},{"mz":7235,"int":90},{"mz":7260,"int":40},{"mz":7285,"int":90},{"mz":7310,"int":50},{"mz":7335,"int":80},{"mz":7360,"int":40},
      {"mz":7385,"int":80},{"mz":7410,"int":50},{"mz":7435,"int":80},{"mz":7460,"int":40},{"mz":7485,"int":80},{"mz":7510,"int":40},{"mz":7535,"int":80},{"mz":7560,"int":50},{"mz":7585,"int":70},{"mz":7610,"int":40},
      {"mz":7635,"int":80},{"mz":7660,"int":40},{"mz":7685,"int":70},{"mz":7710,"int":40},{"mz":7735,"int":80},{"mz":7760,"int":40},{"mz":7785,"int":70},{"mz":7810,"int":40},{"mz":7835,"int":70},{"mz":7860,"int":40},
      {"mz":7885,"int":70},{"mz":7910,"int":40},{"mz":7935,"int":70},{"mz":7960,"int":40},{"mz":7985,"int":70},{"mz":8010,"int":60},{"mz":8030,"int":100},{"mz":8050,"int":130},{"mz":8073,"int":150},{"mz":8095,"int":80},
      {"mz":8115,"int":50},{"mz":8140,"int":70},{"mz":8165,"int":30},{"mz":8190,"int":70},{"mz":8215,"int":40},{"mz":8240,"int":60},{"mz":8265,"int":30},{"mz":8290,"int":60},{"mz":8315,"int":40},{"mz":8340,"int":60},
      {"mz":8365,"int":30},{"mz":8390,"int":60},{"mz":8415,"int":40},{"mz":8440,"int":60},{"mz":8465,"int":30},{"mz":8490,"int":60},{"mz":8515,"int":40},{"mz":8540,"int":60},{"mz":8565,"int":30},{"mz":8590,"int":60},
      {"mz":8615,"int":40},{"mz":8640,"int":60},{"mz":8665,"int":30},{"mz":8690,"int":60},{"mz":8715,"int":40},{"mz":8740,"int":60},{"mz":8765,"int":30},{"mz":8790,"int":60},{"mz":8815,"int":40},{"mz":8840,"int":60},
      {"mz":8865,"int":30},{"mz":8890,"int":50},{"mz":8915,"int":40},{"mz":8940,"int":60},{"mz":8965,"int":30},{"mz":8990,"int":60},{"mz":9015,"int":40},{"mz":9040,"int":60},{"mz":9065,"int":30},{"mz":9090,"int":60},
      {"mz":9115,"int":40},{"mz":9140,"int":60},{"mz":9165,"int":30},{"mz":9190,"int":60},{"mz":9215,"int":40},{"mz":9240,"int":60},{"mz":9265,"int":30},{"mz":9290,"int":50},{"mz":9315,"int":90},{"mz":9340,"int":40},
      {"mz":9365,"int":60},{"mz":9390,"int":30},{"mz":9415,"int":60},{"mz":9440,"int":40},{"mz":9465,"int":60},{"mz":9490,"int":30},{"mz":9515,"int":60},{"mz":9538,"int":120},{"mz":9560,"int":60},{"mz":9585,"int":40},
      {"mz":9610,"int":70},{"mz":9635,"int":40},{"mz":9660,"int":80},{"mz":9685,"int":60},{"mz":9710,"int":100},{"mz":9730,"int":160},{"mz":9755,"int":210},{"mz":9775,"int":120},{"mz":9800,"int":80},{"mz":9825,"int":60},
      {"mz":9850,"int":90},{"mz":9875,"int":70},{"mz":9900,"int":100},{"mz":9925,"int":140},{"mz":9951,"int":170},{"mz":9975,"int":110},{"mz":10000,"int":60},{"mz":10025,"int":50},{"mz":10050,"int":30},{"mz":10075,"int":50},
      {"mz":10100,"int":30},{"mz":10125,"int":50},{"mz":10150,"int":30},{"mz":10175,"int":45},{"mz":10200,"int":25},{"mz":10225,"int":45},{"mz":10250,"int":25},{"mz":10275,"int":45},{"mz":10300,"int":25},{"mz":10325,"int":40},
      {"mz":10350,"int":25},{"mz":10375,"int":40},{"mz":10400,"int":20},{"mz":10425,"int":40},{"mz":10450,"int":25},{"mz":10500,"int":35}
    ]
  },
  "vconcat": [
    {
      "width": 940, "height": 223,
      "data": {"name": "healthy"},
      "title": {"text": "Wash_healthy", "anchor": "end", "frame": "group", "offset": -124, "dx": -21, "baseline": "alphabetic", "fontSize": 29},
      "mark": {"type": "line", "color": "#f7a01e", "strokeWidth": 1.1, "clip": true},
      "encoding": {
        "x": {"field": "mz", "type": "quantitative", "scale": {"domain": [797, 10500], "nice": false, "zero": false},
              "axis": {"orient": "top", "domain": false, "ticks": false, "labels": false, "title": "(A)",
                       "titleX": -123, "titleY": -36, "titleAlign": "left", "titleBaseline": "middle", "titleAngle": 0,
                       "titleFont": "Noto Sans", "titleFontSize": 22, "titleColor": "#333"}},
        "y": {"field": "int", "type": "quantitative", "scale": {"domain": [-130, 385], "nice": false, "zero": false},
              "axis": {"title": "Intens. [a.u.]", "values": [-120,-100,-80,-60,-40,-20,0,20,40,60,80,100,120,140,160,180,200,220,240,260,280,300,320,340,360],
                       "labelExpr": "datum.value % 100 === 0 ? '' + datum.value : ''"}}
      }
    },
    {
      "width": 940, "height": 227,
      "data": {"name": "precancerous"},
      "title": {"text": "Wash_precancerous", "anchor": "end", "frame": "group", "offset": -82, "dx": -21, "baseline": "alphabetic", "fontSize": 29},
      "mark": {"type": "line", "color": "#1414e6", "strokeWidth": 1.1, "clip": true},
      "encoding": {
        "x": {"field": "mz", "type": "quantitative", "scale": {"domain": [797, 10500], "nice": false, "zero": false},
              "axis": {"orient": "top", "domain": false, "ticks": false, "labels": false, "title": "Intensity [a.u.]",
                       "titleX": -98, "titleY": 224, "titleAlign": "center", "titleBaseline": "middle", "titleAngle": -90,
                       "titleFont": "Noto Sans", "titleFontSize": 32, "titleColor": "#555"}},
        "y": {"field": "int", "type": "quantitative", "scale": {"domain": [-438, 2767], "nice": false, "zero": false},
              "axis": {"title": "Intens. [a.u.]", "values": [-400,-200,0,200,400,600,800,1000,1200,1400,1600,1800,2000,2200,2400,2600],
                       "labelExpr": "datum.value % 1000 === 0 ? '' + datum.value : ''"}}
      }
    },
    {
      "width": 940, "height": 225,
      "data": {"name": "early"},
      "title": {"text": "Wash_early", "anchor": "end", "frame": "group", "offset": -83, "dx": -21, "baseline": "alphabetic", "fontSize": 29},
      "mark": {"type": "line", "color": "#9ac81e", "strokeWidth": 1.1, "clip": true},
      "encoding": {
        "x": {"field": "mz", "type": "quantitative", "scale": {"domain": [797, 10500], "nice": false, "zero": false}, "axis": null},
        "y": {"field": "int", "type": "quantitative", "scale": {"domain": [-244, 2456], "nice": false, "zero": false},
              "axis": {"title": "Intens. [a.u.]", "values": [-200,-100,0,100,200,300,400,500,600,700,800,900,1000,1100,1200,1300,1400,1500,1600,1700,1800,1900,2000,2100,2200,2300,2400],
                       "labelExpr": "datum.value % 500 === 0 ? '' + datum.value : ''"}}
      }
    },
    {
      "width": 940, "height": 227,
      "data": {"name": "advance"},
      "title": {"text": "Wash_advance", "anchor": "end", "frame": "group", "offset": -89, "dx": -21, "baseline": "alphabetic", "fontSize": 29},
      "mark": {"type": "line", "color": "#ee1111", "strokeWidth": 1.1, "clip": true},
      "encoding": {
        "x": {"field": "mz", "type": "quantitative", "scale": {"domain": [797, 10500], "nice": false, "zero": false},
              "axis": {"title": "m/z", "values": [800,1000,1200,1400,1600,1800,2000,2200,2400,2600,2800,3000,3200,3400,3600,3800,4000,4200,4400,4600,4800,5000,5200,5400,5600,5800,6000,6200,6400,6600,6800,7000,7200,7400,7600,7800,8000,8200,8400,8600,8800,9000,9200,9400,9600,9800,10000,10200,10400],
                       "labelExpr": "datum.value === 1000 || datum.value === 5000 || datum.value === 10000 ? '' + datum.value : ''",
                       "tickSize": 5, "labelFont": "Noto Sans", "labelFontSize": 24, "labelColor": "#333", "labelPadding": 14,
                       "titleFont": "Noto Sans", "titleFontSize": 20, "titleColor": "#444", "titlePadding": 34, "titleX": 442, "titleAnchor": "middle"}},
        "y": {"field": "int", "type": "quantitative", "scale": {"domain": [-271, 2122], "nice": false, "zero": false},
              "axis": {"title": "Intens. [a.u.]", "values": [-200,-100,0,100,200,300,400,500,600,700,800,900,1000,1100,1200,1300,1400,1500,1600,1700,1800,1900,2000,2100],
                       "labelExpr": "datum.value % 500 === 0 && datum.value < 2000 ? '' + datum.value : ''"}}
      }
    }
  ]
}
